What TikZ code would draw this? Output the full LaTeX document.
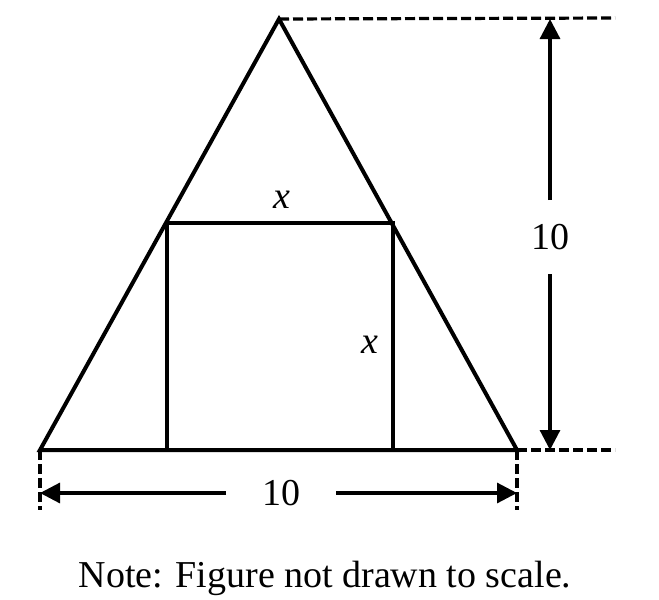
\documentclass[tikz,border=0pt]{standalone}
\usepackage{fontspec}
\setmainfont{Liberation Serif}
\usetikzlibrary{calc,arrows.meta}

\begin{document}
\begin{tikzpicture}[x=0.5pt,y=-0.5pt,line width=2pt,
	maslinie/.style={line width=1.6pt,-{Triangle[length=10pt,width=10pt]}},
	hilfslinie/.style={line width=1.6pt,dash pattern=on 5pt off 2pt},
	beschriftung/.style={font=\fontsize{19}{22}\selectfont,inner sep=0pt}]
	\useasboundingbox (0,0) rectangle (659,600);
	
	\coordinate (a) at (40,450);
	\coordinate (b) at (517,450);
	\coordinate (c) at (279,19);
	
	%Dreieck
	\draw (a) -- (c) -- (b) -- cycle;
	
	%Quadrat
	\coordinate (q1) at (167,450);
	\coordinate (q2) at (167,223);
	\coordinate (q3) at (393,223);
	\coordinate (q4) at (393,450);
	\draw (q1) -- (q2) -- (q3) -- (q4);
	\node[beschriftung] (xoben) at (282,200) {\textit{x}};
	\node[beschriftung] (xrechts) at (370,345) {\textit{x}};
	
	%Hilfslinien
	\coordinate (cr) at (615,18);
	\coordinate (br) at (615,450);
	\coordinate (au) at (40,510);
	\coordinate (bu) at (517,510);
	\draw[hilfslinie] (c) -- (cr);
	\draw[hilfslinie] (b) -- (br);
	\draw[hilfslinie] (a) -- (au);
	\draw[hilfslinie] (b) -- (bu);
	
	%Hoehe
	\coordinate (ho) at (550,19);
	\coordinate (hu) at (550,450);
	\node[beschriftung,minimum height=35pt] (hoehe) at (550,237) {10};
	\draw[maslinie] (hoehe.north) -- (ho);
	\draw[maslinie] (hoehe.south) -- (hu);
	
	%Breite
	\coordinate (bl) at (40,493);
	\coordinate (brr) at (517,493);
	\node[beschriftung,minimum width=53pt] (breite) at (281,493) {10};
	\draw[maslinie] (breite.west) -- (bl);
	\draw[maslinie] (breite.east) -- (brr);
	
	\node[beschriftung] (notiz) at (325,578) {Note: Figure not drawn to scale.};
\end{tikzpicture}
\end{document}
